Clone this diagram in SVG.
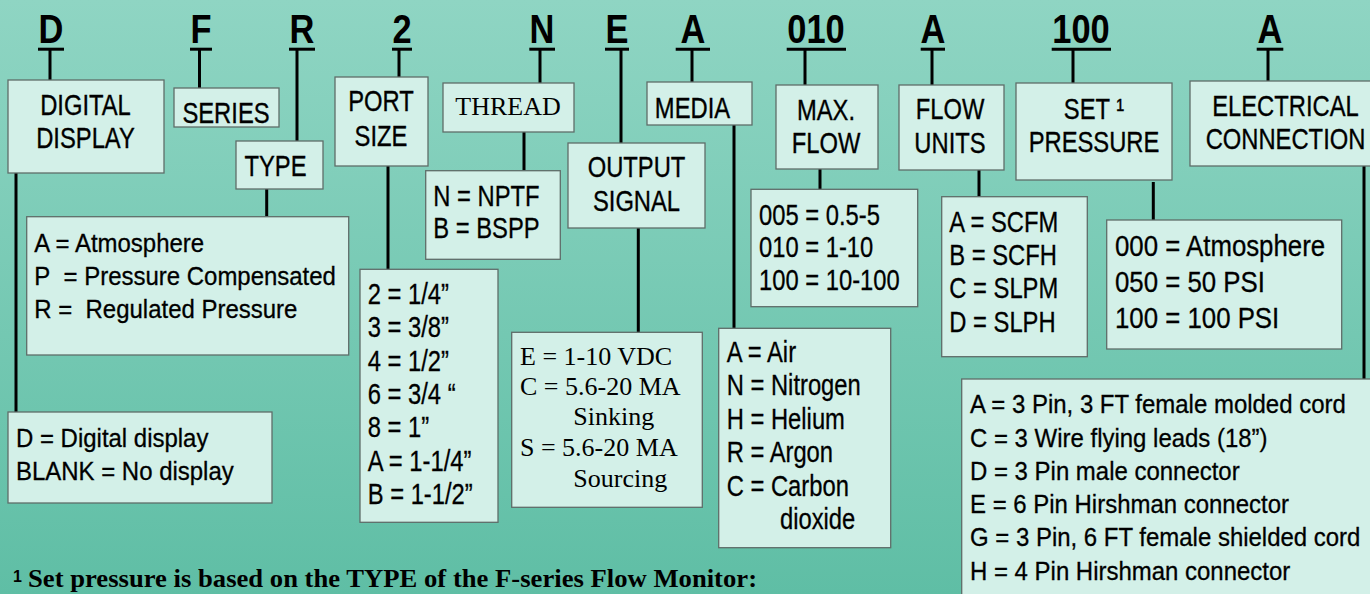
<svg xmlns="http://www.w3.org/2000/svg" width="1370" height="594" viewBox="0 0 1370 594">
<defs>
<linearGradient id="bg" x1="0" y1="0" x2="0" y2="1">
<stop offset="0" stop-color="#8fd5c3"/>
<stop offset="1" stop-color="#5fbea5"/>
</linearGradient>
<style>
.box{fill:#d3f0e8;stroke:#5f6d69;stroke-width:1.3}
.ln{stroke:#000;stroke-width:3;fill:none}
.hdr{font-family:"Liberation Sans",Arial,sans-serif;font-weight:bold;font-size:41px;text-anchor:middle;fill:#000}
.lbl{font-family:"Liberation Sans",Arial,sans-serif;font-size:29px;text-anchor:middle;fill:#000;stroke:#000;stroke-width:0.35}
.srf{font-family:"Liberation Serif","Times New Roman",serif;font-size:26px;fill:#000}
.val{font-family:"Liberation Sans",Arial,sans-serif;fill:#000;stroke:#000;stroke-width:0.3}
.n{font-size:29px}
.r{font-size:25.5px}
.foot{font-family:"Liberation Serif","Times New Roman",serif;font-weight:bold;font-size:25px;fill:#000}
.sup{font-family:"Liberation Sans",Arial,sans-serif;font-weight:bold;font-size:16px;fill:#000}
</style>
</defs>
<rect width="1370" height="594" fill="url(#bg)"/>

<g id="connectors" class="ln">
<line x1="50" y1="50" x2="50" y2="80"/>
<line x1="199.5" y1="50" x2="199.5" y2="88"/>
<line x1="297" y1="50" x2="297" y2="141"/>
<line x1="399" y1="50" x2="399" y2="77"/>
<line x1="540" y1="50" x2="540" y2="83"/>
<line x1="621" y1="50" x2="621" y2="143"/>
<line x1="692" y1="50" x2="692" y2="82"/>
<line x1="805" y1="50" x2="805" y2="85"/>
<line x1="932" y1="50" x2="932" y2="85"/>
<line x1="1073" y1="50" x2="1073" y2="83"/>
<line x1="1268" y1="50" x2="1268" y2="81"/>
<line x1="16" y1="173" x2="16" y2="412"/>
<line x1="266.7" y1="189" x2="266.7" y2="216.7"/>
<line x1="388" y1="166" x2="388" y2="269.3"/>
<line x1="524" y1="132" x2="524" y2="170.7"/>
<line x1="638.3" y1="228" x2="638.3" y2="332.3"/>
<line x1="734" y1="125" x2="734" y2="328.3"/>
<line x1="820" y1="169" x2="820" y2="189.3"/>
<line x1="979" y1="170" x2="979" y2="196.7"/>
<line x1="1153.3" y1="182" x2="1153.3" y2="220"/>
<line x1="1364" y1="166" x2="1364" y2="379"/>
</g>

<g id="code-D"><text class="hdr" transform="translate(51,43) scale(0.84,1)">D</text><line class="ln" x1="38" y1="49.2" x2="64" y2="49.2"/></g>
<g id="code-F"><text class="hdr" transform="translate(201,43) scale(0.84,1)">F</text><line class="ln" x1="190" y1="49.2" x2="212" y2="49.2"/></g>
<g id="code-R"><text class="hdr" transform="translate(302,43) scale(0.84,1)">R</text><line class="ln" x1="289" y1="49.2" x2="315" y2="49.2"/></g>
<g id="code-2"><text class="hdr" transform="translate(402,43) scale(0.84,1)">2</text><line class="ln" x1="392" y1="49.2" x2="412" y2="49.2"/></g>
<g id="code-N"><text class="hdr" transform="translate(542,43) scale(0.84,1)">N</text><line class="ln" x1="529.3" y1="49.2" x2="555" y2="49.2"/></g>
<g id="code-E"><text class="hdr" transform="translate(617,43) scale(0.84,1)">E</text><line class="ln" x1="605" y1="49.2" x2="629" y2="49.2"/></g>
<g id="code-A1"><text class="hdr" transform="translate(693,43) scale(0.84,1)">A</text><line class="ln" x1="675.7" y1="49.2" x2="710" y2="49.2"/></g>
<g id="code-010"><text class="hdr" transform="translate(816,43) scale(0.84,1)">010</text><line class="ln" x1="786.7" y1="49.2" x2="846" y2="49.2"/></g>
<g id="code-A2"><text class="hdr" transform="translate(933,43) scale(0.84,1)">A</text><line class="ln" x1="920.7" y1="49.2" x2="945" y2="49.2"/></g>
<g id="code-100"><text class="hdr" transform="translate(1081,43) scale(0.84,1)">100</text><line class="ln" x1="1051.7" y1="49.2" x2="1111" y2="49.2"/></g>
<g id="code-A3"><text class="hdr" transform="translate(1270,43) scale(0.84,1)">A</text><line class="ln" x1="1256.7" y1="49.2" x2="1283.3" y2="49.2"/></g>

<g id="label-digital"><rect class="box" x="8" y="80" width="156" height="93"/>
<text class="lbl" transform="translate(85.5,115) scale(0.82,1)">DIGITAL</text>
<text class="lbl" transform="translate(85.5,148) scale(0.82,1)">DISPLAY</text></g>
<g id="label-series"><rect class="box" x="174" y="88" width="105" height="39"/>
<text class="lbl" transform="translate(226,123) scale(0.82,1)">SERIES</text></g>
<g id="label-type"><rect class="box" x="236" y="141" width="87" height="48"/>
<text class="lbl" transform="translate(275.5,176) scale(0.82,1)">TYPE</text></g>
<g id="label-port"><rect class="box" x="335" y="77" width="93" height="89"/>
<text class="lbl" transform="translate(381,111) scale(0.82,1)">PORT</text>
<text class="lbl" transform="translate(381,146) scale(0.82,1)">SIZE</text></g>
<g id="label-thread"><rect class="box" x="443" y="83" width="131" height="49"/>
<text class="srf" x="508" y="115" text-anchor="middle" font-size="27">THREAD</text></g>
<g id="label-output"><rect class="box" x="568" y="143" width="137" height="85"/>
<text class="lbl" transform="translate(636.5,177) scale(0.82,1)">OUTPUT</text>
<text class="lbl" transform="translate(636.5,211) scale(0.82,1)">SIGNAL</text></g>
<g id="label-media"><rect class="box" x="647" y="82" width="105" height="43"/>
<text class="lbl" transform="translate(692.5,118) scale(0.82,1)">MEDIA</text></g>
<g id="label-maxflow"><rect class="box" x="776" y="85" width="102" height="84"/>
<text class="lbl" transform="translate(826,120) scale(0.82,1)">MAX.</text>
<text class="lbl" transform="translate(826,153) scale(0.82,1)">FLOW</text></g>
<g id="label-flowunits"><rect class="box" x="899" y="85" width="105" height="85"/>
<text class="lbl" transform="translate(950,119) scale(0.82,1)">FLOW</text>
<text class="lbl" transform="translate(950,153) scale(0.82,1)">UNITS</text></g>
<g id="label-setpressure"><rect class="box" x="1016" y="83" width="156" height="97"/>
<text class="lbl" transform="translate(1094,119) scale(0.82,1)">SET ¹</text>
<text class="lbl" transform="translate(1094,152) scale(0.82,1)">PRESSURE</text></g>
<g id="label-electrical"><rect class="box" x="1190" y="81" width="200" height="85"/>
<text class="lbl" transform="translate(1285.5,116) scale(0.82,1)">ELECTRICAL</text>
<text class="lbl" transform="translate(1285.5,149) scale(0.82,1)">CONNECTION</text></g>

<g id="values-digital"><rect class="box" x="8" y="412" width="264" height="91"/>
<g class="val r" transform="translate(16,0) scale(0.94,1)"><text y="447">D = Digital display</text><text y="480">BLANK = No display</text></g></g>
<g id="values-type"><rect class="box" x="26.7" y="216.7" width="322" height="138.3"/>
<g class="val r" transform="translate(34.3,0) scale(0.94,1)"><text y="251.7">A = Atmosphere</text><text y="285">P&#160; = Pressure Compensated</text><text y="318.3">R =&#160; Regulated Pressure</text></g></g>
<g id="values-port"><rect class="box" x="360" y="269.3" width="138" height="253"/>
<g class="val n" transform="translate(367.7,0) scale(0.82,1)"><text y="304">2 = 1/4”</text><text y="337.3">3 = 3/8”</text><text y="370.7">4 = 1/2”</text><text y="404">6 = 3/4 “</text><text y="437.3">8 = 1”</text><text y="470.7">A = 1-1/4”</text><text y="504">B = 1-1/2”</text></g></g>
<g id="values-thread"><rect class="box" x="425.7" y="170.7" width="134.6" height="88.6"/>
<g class="val n" transform="translate(433.3,0) scale(0.82,1)"><text y="206">N = NPTF</text><text y="238.3">B = BSPP</text></g></g>
<g id="values-output"><rect class="box" x="511.7" y="332.3" width="190.6" height="175"/>
<text class="srf" x="520" y="365">E = 1-10 VDC</text>
<text class="srf" x="520" y="394.5">C = 5.6-20 MA</text>
<text class="srf" x="573.3" y="425">Sinking</text>
<text class="srf" x="520" y="456">S = 5.6-20 MA</text>
<text class="srf" x="573.3" y="486.7">Sourcing</text></g>
<g id="values-media"><rect class="box" x="718.7" y="328.3" width="172" height="219.4"/>
<g class="val n" transform="translate(726.7,0) scale(0.82,1)"><text y="361.7">A = Air</text><text y="395.2">N = Nitrogen</text><text y="428.7">H = Helium</text><text y="462.2">R = Argon</text><text y="495.7">C = Carbon</text><text x="65" y="529.2">dioxide</text></g></g>
<g id="values-maxflow"><rect class="box" x="751" y="189.3" width="166.7" height="117.4"/>
<g class="val n" transform="translate(759,0) scale(0.82,1)"><text y="225">005 = 0.5-5</text><text y="257.5">010 = 1-10</text><text y="290">100 = 10-100</text></g></g>
<g id="values-flowunits"><rect class="box" x="941.7" y="196.7" width="145.6" height="160"/>
<g class="val n" transform="translate(949.3,0) scale(0.82,1)"><text y="231.7">A = SCFM</text><text y="265">B = SCFH</text><text y="298.3">C = SLPM</text><text y="331.7">D = SLPH</text></g></g>
<g id="values-setpressure"><rect class="box" x="1106.7" y="220" width="235" height="129"/>
<g class="val n" transform="translate(1115,0) scale(0.89,1)"><text y="256">000 = Atmosphere</text><text y="291.8">050 = 50 PSI</text><text y="327.7">100 = 100 PSI</text></g></g>
<g id="values-electrical"><rect class="box" x="961.7" y="379" width="420" height="230"/>
<g class="val r" transform="translate(970,0) scale(0.94,1)"><text y="413.3">A = 3 Pin, 3 FT female molded cord</text><text y="446.6">C = 3 Wire flying leads (18”)</text><text y="479.9">D = 3 Pin male connector</text><text y="513.2">E = 6 Pin Hirshman connector</text><text y="546.5">G = 3 Pin, 6 FT female shielded cord</text><text y="579.8">H = 4 Pin Hirshman connector</text></g></g>

<g id="footnote">
<text class="sup" x="13" y="582">1</text>
<text class="foot" x="28" y="587" textLength="729" lengthAdjust="spacingAndGlyphs">Set pressure is based on the TYPE of the F-series Flow Monitor:</text>
</g>
</svg>
